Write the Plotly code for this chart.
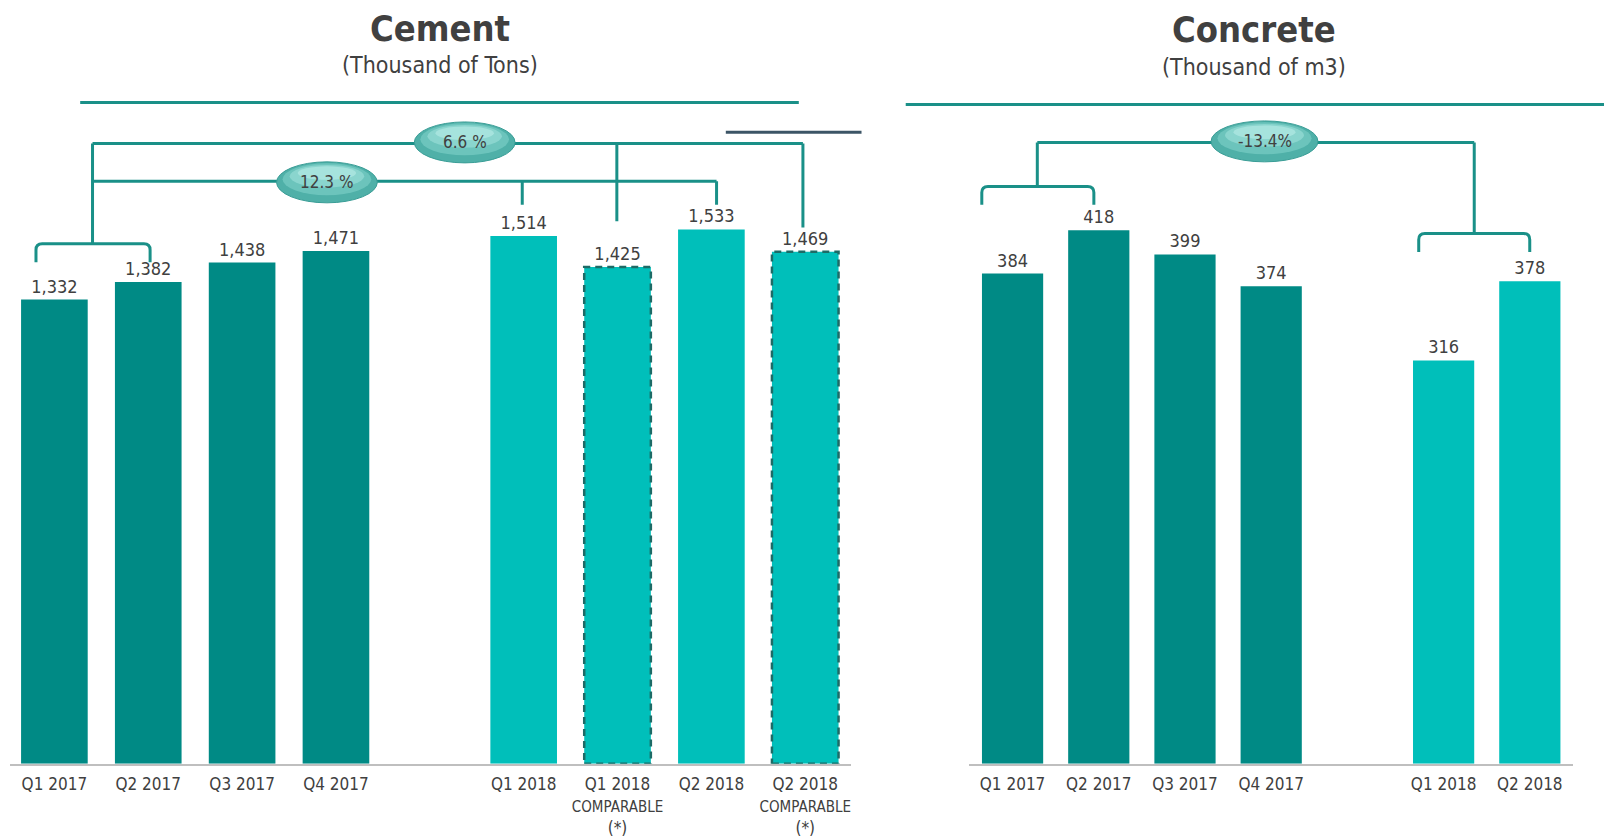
import plotly.graph_objects as go

# ---------------- data ----------------
cement_labels = ["Q1 2017", "Q2 2017", "Q3 2017", "Q4 2017",
                 "Q1 2018", "Q1 2018<br><span style='font-size:15px'>COMPARABLE</span><br>(*)",
                 "Q2 2018", "Q2 2018<br><span style='font-size:15px'>COMPARABLE</span><br>(*)"]
cement_values = [1332, 1382, 1438, 1471, 1514, 1425, 1533, 1469]
cement_pos = [0, 1, 2, 3, 5, 6, 7, 8]
cement_is2018 = [False, False, False, False, True, True, True, True]
cement_comparable = [False, False, False, False, False, True, False, True]

concrete_labels = ["Q1 2017", "Q2 2017", "Q3 2017", "Q4 2017", "Q1 2018", "Q2 2018"]
concrete_values = [384, 418, 399, 374, 316, 378]
concrete_pos = [0, 1, 2, 3, 5, 6]
concrete_is2018 = [False, False, False, False, True, True]

growth_cement_h1 = "6.6 %"
growth_cement_q1 = "12.3 %"
growth_concrete = "-13.4%"

# ---------------- style ----------------
W, H = 1596, 830           # page adds an 8px body margin around the figure
S = 1612 / 1568.0          # layout positions below are measured on a 1568-wide grid
SY = S * 1.008
OFF = 8


def AX(m):
    return m * S - OFF


def AY(m):
    return m * SY - OFF


DARK = "#008a85"
LIGHT = "#00bfba"
TEAL = "#1a9088"
TXT = "#404040"
FONT = "DejaVu Sans Condensed, Liberation Sans Narrow, Roboto, sans-serif"
BAR_W = 0.71

L_XR = [-0.47, 8.49]
L_DOM = [AX(10), AX(828)]
R_XR = [-0.5, 6.5]
R_DOM = [AX(943), AX(1530)]
Y_BOT, Y_TOP = AY(746), AY(65)
L_YR = [0, 2000]
R_YR = [0, 546.1]


def conv(xr, dom, yr):
    def f(px, py):
        px, py = AX(px), AY(py)
        x = xr[0] + (px - dom[0]) / (dom[1] - dom[0]) * (xr[1] - xr[0])
        y = yr[0] + (Y_BOT - py) / (Y_BOT - Y_TOP) * (yr[1] - yr[0])
        return x, y
    return f


LC = conv(L_XR, L_DOM, L_YR)
RC = conv(R_XR, R_DOM, R_YR)

fig = go.Figure()

fig.add_trace(go.Bar(
    x=cement_pos, y=cement_values, width=BAR_W,
    marker=dict(color=[LIGHT if b else DARK for b in cement_is2018], line=dict(width=0)),
    text=[f"{v:,}" for v in cement_values], textposition="outside", cliponaxis=False,
    textfont=dict(size=18, color=TXT, family=FONT),
    xaxis="x", yaxis="y", showlegend=False))

fig.add_trace(go.Bar(
    x=concrete_pos, y=concrete_values, width=BAR_W,
    marker=dict(color=[LIGHT if b else DARK for b in concrete_is2018], line=dict(width=0)),
    text=[f"{v:,}" for v in concrete_values], textposition="outside", cliponaxis=False,
    textfont=dict(size=18, color=TXT, family=FONT),
    xaxis="x2", yaxis="y2", showlegend=False))

shapes = []
# dashed outlines on comparable bars
for p, v, c in zip(cement_pos, cement_values, cement_comparable):
    if c:
        shapes.append(dict(type="rect", xref="x", yref="y", x0=p - BAR_W / 2, x1=p + BAR_W / 2,
                           y0=0, y1=v, line=dict(color="#1d6b66", width=2.5, dash="7px,5px")))


def line(cf, xref, yref, p0, p1, color=TEAL, width=3):
    x0, y0 = cf(*p0)
    x1, y1 = cf(*p1)
    shapes.append(dict(type="line", xref=xref, yref=yref, x0=x0, y0=y0, x1=x1, y1=y1,
                       line=dict(color=color, width=width), layer="above"))


def bracket(cf, xref, yref, xl, xr, yh, yend, r=6):
    def P(px, py):
        x, y = cf(px, py)
        return f"{x},{y}"
    path = (f"M {P(xl, yend)} L {P(xl, yh + r)} Q {P(xl, yh)} {P(xl + r, yh)} "
            f"L {P(xr - r, yh)} Q {P(xr, yh)} {P(xr, yh + r)} L {P(xr, yend)}")
    shapes.append(dict(type="path", xref=xref, yref=yref, path=path,
                       line=dict(color=TEAL, width=3), layer="above"))


def ellipse(cf, xref, yref, cx, cy, w, h):
    layers = [(0, 0, 1.0, 1.0, "#4fb0a8"),
              (0, -3, 0.88, 0.78, "#6cc4bc"),
              (0, -6, 0.74, 0.55, "#8ad5ce"),
              (0, -9, 0.58, 0.33, "#a6e3dd")]
    for dx, dy, sw, sh, col in layers:
        x0, y0 = cf(cx + dx - w * sw / 2, cy + dy + h * sh / 2)
        x1, y1 = cf(cx + dx + w * sw / 2, cy + dy - h * sh / 2)
        shapes.append(dict(type="circle", xref=xref, yref=yref, x0=x0, y0=y0, x1=x1, y1=y1,
                           fillcolor=col, line=dict(width=1 if sw == 1.0 else 0, color="#3a9d96"),
                           layer="above"))


# ---- left (cement) connectors ----
bracket(LC, "x", "y", 35, 146, 238, 256)
line(LC, "x", "y", (90, 238), (90, 140))
line(LC, "x", "y", (90, 140), (781, 140))
line(LC, "x", "y", (90, 177), (697, 177))
line(LC, "x", "y", (508, 177), (508, 200))
line(LC, "x", "y", (697, 177), (697, 200))
line(LC, "x", "y", (600, 140), (600, 216))
line(LC, "x", "y", (781, 140), (781, 222))
ellipse(LC, "x", "y", 452, 139, 98, 40)
ellipse(LC, "x", "y", 318, 178, 98, 40)

# ---- right (concrete) connectors ----
bracket(RC, "x2", "y2", 955, 1064, 182, 200)
line(RC, "x2", "y2", (1009, 182), (1009, 139))
line(RC, "x2", "y2", (1009, 139), (1434, 139))
line(RC, "x2", "y2", (1434, 139), (1434, 228))
bracket(RC, "x2", "y2", 1380, 1488, 228, 246)
ellipse(RC, "x2", "y2", 1230, 138, 104, 40)


# ---- header rules ----
def pline(x0, y0, x1, y1, color, width):
    shapes.append(dict(type="line", xref="paper", yref="paper", x0=AX(x0) / W, x1=min(AX(x1), W) / W,
                       y0=1 - AY(y0) / H, y1=1 - AY(y1) / H, line=dict(color=color, width=width)))


pline(78, 100, 777, 100, TEAL, 3)
pline(881, 102, 1568, 102, TEAL, 3)
pline(706, 129, 838, 129, "#3c5566", 3)

annotations = []


def ptext(txt, px, py, size, bold=False, box_h=None):
    a = dict(text=f"<b>{txt}</b>" if bold else txt, xref="paper", yref="paper",
             x=AX(px) / W, y=1 - AY(py) / H, showarrow=False, xanchor="center",
             yanchor="middle", font=dict(size=size, color=TXT, family=FONT))
    if box_h:
        a["height"] = box_h
        a["valign"] = "middle"
    annotations.append(a)


ptext("Cement", 428, 27, 36, True, 38)
ptext("(Thousand of Tons)", 428, 63, 23)
ptext("Concrete", 1220, 28, 36, True, 38)
ptext("(Thousand of m3)", 1220, 65, 23)


def dtext(cf, xref, yref, txt, px, py):
    x, y = cf(px, py)
    annotations.append(dict(text=txt, xref=xref, yref=yref, x=x, y=y, showarrow=False,
                            font=dict(size=17, color=TXT, family=FONT)))


dtext(LC, "x", "y", growth_cement_h1, 452, 139)
dtext(LC, "x", "y", growth_cement_q1, 318, 178)
dtext(RC, "x2", "y2", growth_concrete, 1230, 138)

ydom = [1 - Y_BOT / H, 1 - Y_TOP / H]
axis_common = dict(showgrid=False, zeroline=False, showline=True, linecolor="#bfbfbf", linewidth=2,
                   ticks="", ticklabelstandoff=4,
                   tickfont=dict(size=17, color=TXT, family=FONT), fixedrange=True)

fig.update_layout(
    width=W, height=H, margin=dict(l=0, r=0, t=0, b=0),
    paper_bgcolor="white", plot_bgcolor="white",
    xaxis=dict(domain=[L_DOM[0] / W, L_DOM[1] / W], range=L_XR, tickmode="array",
               tickvals=cement_pos, ticktext=cement_labels, anchor="y", **axis_common),
    yaxis=dict(domain=ydom, range=L_YR, visible=False, anchor="x"),
    xaxis2=dict(domain=[R_DOM[0] / W, min(R_DOM[1] / W, 1.0)], range=R_XR, tickmode="array",
                tickvals=concrete_pos, ticktext=concrete_labels, anchor="y2", **axis_common),
    yaxis2=dict(domain=ydom, range=R_YR, visible=False, anchor="x2"),
    shapes=shapes, annotations=annotations,
    font=dict(family=FONT, color=TXT),
)

fig.write_html("out.html")
